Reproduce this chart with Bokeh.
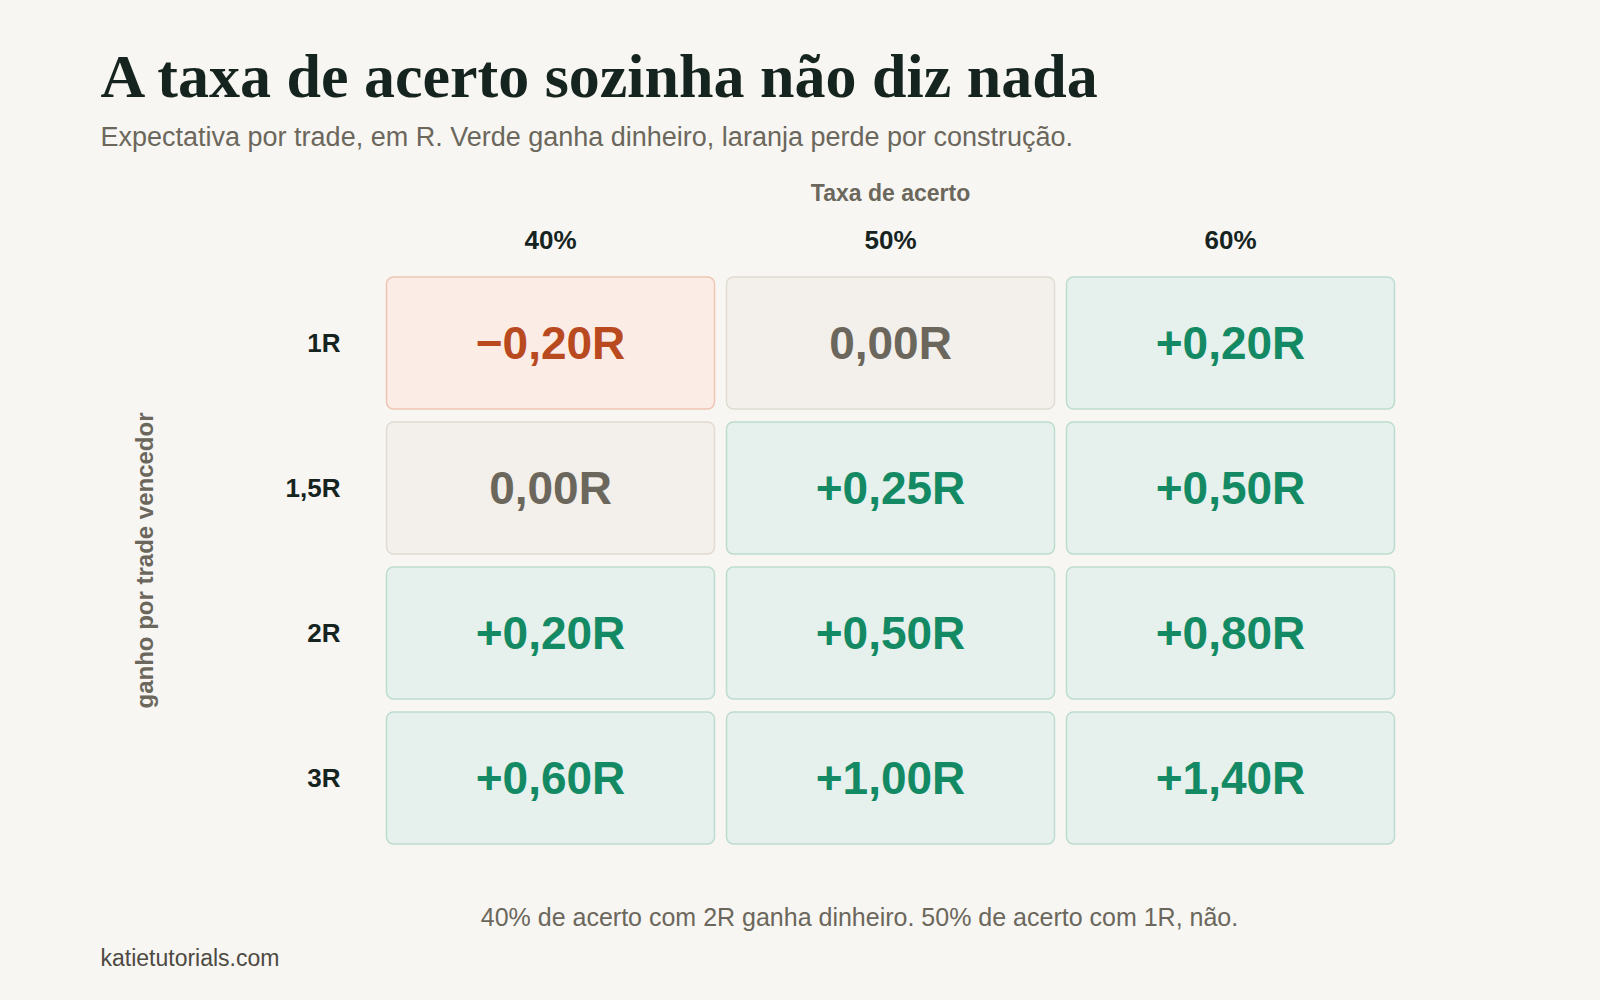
import math

from bokeh.plotting import figure
from bokeh.models import Range1d, ColumnDataSource, GlobalInlineStyleSheet
from bokeh.core.properties import value
from bokeh.embed import file_html
from bokeh.resources import INLINE

# taxa de acerto (colunas) x ganho por trade vencedor (linhas)
cols = ["40%", "50%", "60%"]
rows = ["1R", "1,5R", "2R", "3R"]

# expectativa por trade, em R
exp_1r = [-0.20, 0.00, 0.20]
exp_15r = [0.00, 0.25, 0.50]
exp_2r = [0.20, 0.50, 0.80]
exp_3r = [0.60, 1.00, 1.40]

title_txt = "A taxa de acerto sozinha não diz nada"
subtitle_txt = "Expectativa por trade, em R. Verde ganha dinheiro, laranja perde por construção."
xlabel_txt = "Taxa de acerto"
ylabel_txt = "ganho por trade vencedor"
note_txt = "40% de acerto com 2R ganha dinheiro. 50% de acerto com 1R, não."
site_txt = "katietutorials.com"

BG = "#f8f6f2"
INK = "#16241f"
GRAY = "#6b675c"
SANS = value("Liberation Sans")

styles = {
    "neg": ("#fcece6", "#edc5b5", "#b94a1f"),
    "zero": ("#f3f0eb", "#e0dcd3", "#6b675c"),
    "pos": ("#e6f1ed", "#bddcd0", "#138a63"),
}


def fmt(v):
    s = f"{abs(v):.2f}".replace(".", ",") + "R"
    if v > 0:
        return "+" + s
    if v < 0:
        return "\u2212" + s
    return s


# one data unit = one cell (340 x 145 px); grid sits at 380..1400 x 270..850 on the page
W, H = 1600, 1000
CW, CH = 340, 145
GX, GY = 380, 270


def ux(X):
    return (X - GX) / CW


def uy(Y):
    return (Y - GY) / CH


xs, ys, labels, fills, lines, tcolors = [], [], [], [], [], []
for j, vals in enumerate([exp_1r, exp_15r, exp_2r, exp_3r]):
    for i, v in enumerate(vals):
        key = "neg" if v < 0 else ("zero" if v == 0 else "pos")
        f, l, t = styles[key]
        xs.append(i + 0.5)
        ys.append(j + 0.5)
        labels.append(fmt(v))
        fills.append(f)
        lines.append(l)
        tcolors.append(t)

source = ColumnDataSource(dict(x=xs, y=ys, label=labels, fill=fills, line=lines, tc=tcolors))

p = figure(width=W, height=H, x_range=Range1d(ux(0), ux(W)), y_range=Range1d(uy(H), uy(0)),
           output_backend="svg", toolbar_location=None, min_border=0)
p.background_fill_color = BG
p.border_fill_color = BG
p.outline_line_color = None
p.grid.visible = False
p.axis.visible = False
p.stylesheets = [GlobalInlineStyleSheet(css="html, body { background: %s; }" % BG)]

p.rect(x="x", y="y", width=328 / CW, height=132 / CH, source=source,
       fill_color="fill", line_color="line", line_width=1.5, border_radius=7)
p.text(x="x", y="y", text="label", source=source, text_color="tc",
       text_font=SANS, text_font_style="bold",
       text_font_size="46px", text_align="center", text_baseline="middle")

# column headers and row headers
p.text(x=[i + 0.5 for i in range(len(cols))], y=[uy(239.5)] * len(cols), text=cols,
       text_font=SANS, text_font_style="bold", text_font_size="26px", text_color=INK,
       text_align="center", text_baseline="middle")
p.text(x=[ux(340)] * len(rows), y=[j + 0.5 for j in range(len(rows))], text=rows,
       text_font=SANS, text_font_style="bold", text_font_size="26px", text_color=INK,
       text_align="right", text_baseline="middle")

# axis titles
p.text(x=[len(cols) / 2], y=[uy(192)], text=[xlabel_txt], text_font=SANS,
       text_font_style="bold", text_font_size="23px", text_color=GRAY,
       text_align="center", text_baseline="middle")
p.text(x=[ux(144)], y=[len(rows) / 2], text=[ylabel_txt], angle=math.pi / 2,
       text_font=SANS, text_font_style="bold", text_font_size="24px", text_color=GRAY,
       text_align="center", text_baseline="middle")


def add_text(text, X, Y, size, color, font=SANS, style="normal", align="left"):
    p.text(x=[ux(X)], y=[uy(Y)], text=[text], text_font=font, text_font_style=style,
           text_font_size=size, text_color=color, text_align=align,
           text_baseline="middle")


add_text(title_txt, 100, 75, "62px", INK, font=value("Liberation Serif"), style="bold")
add_text(subtitle_txt, 100, 136, "27px", GRAY)
add_text(note_txt, 859, 916, "25px", GRAY, align="center")
add_text(site_txt, 100, 957, "23px", "#4d4a43")

open("out.html", "w").write(file_html(p, INLINE))
